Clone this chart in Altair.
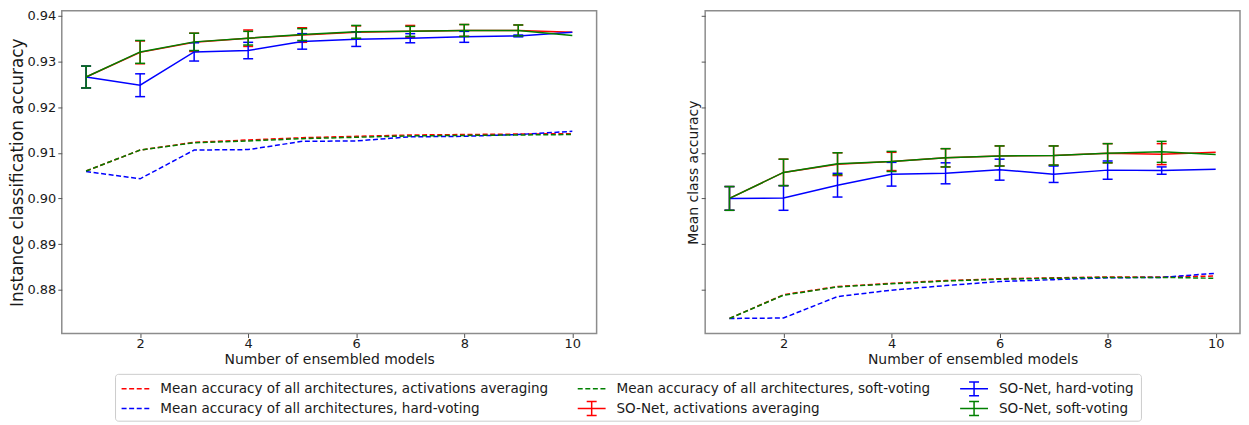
import altair as alt
import pandas as pd

# ---------------- data ----------------
n_models = [1, 2, 3, 4, 5, 6, 7, 8, 9, 10]

# Left panel: instance classification accuracy
inst_mean_avg = [0.9060, 0.9106, 0.9123, 0.9128, 0.9133, 0.9136, 0.9139, 0.9140, 0.9141, 0.9142]
inst_mean_hard = [0.9059, 0.9043, 0.9106, 0.9107, 0.9125, 0.9126, 0.9135, 0.9136, 0.9140, 0.9147]
inst_mean_soft = [0.9060, 0.9106, 0.9122, 0.9126, 0.9131, 0.9134, 0.9137, 0.9138, 0.9139, 0.9140]
inst_so_avg = [0.9266, 0.9320, 0.9342, 0.9351, 0.9358, 0.9364, 0.9366, 0.9368, 0.9368, 0.9364]
inst_so_avg_err = [0.0024, 0.0025, 0.0020, 0.0018, 0.0016, 0.0014, 0.0013, 0.0013, 0.0012, 0.0]
inst_so_hard = [0.9266, 0.9248, 0.9321, 0.9324, 0.9344, 0.9349, 0.9351, 0.9354, 0.9356, 0.9364]
inst_so_hard_err = [0.0024, 0.0025, 0.0020, 0.0018, 0.0017, 0.0016, 0.0010, 0.0012, 0.0002, 0.0]
inst_so_soft = [0.9266, 0.9321, 0.9343, 0.9351, 0.9359, 0.9365, 0.9366, 0.9368, 0.9368, 0.9357]
inst_so_soft_err = [0.0024, 0.0025, 0.0019, 0.0015, 0.0013, 0.0014, 0.0011, 0.0013, 0.0012, 0.0]

# Right panel: mean class accuracy
cls_mean_avg = [0.8737, 0.8789, 0.8807, 0.8814, 0.8820, 0.8824, 0.8826, 0.8828, 0.8828, 0.8830]
cls_mean_hard = [0.8737, 0.8738, 0.8785, 0.8799, 0.8809, 0.8818, 0.8822, 0.8826, 0.8827, 0.8836]
cls_mean_soft = [0.8737, 0.8788, 0.8806, 0.8813, 0.8819, 0.8823, 0.8825, 0.8827, 0.8827, 0.8825]
cls_so_avg = [0.9000, 0.9057, 0.9075, 0.9081, 0.9089, 0.9093, 0.9094, 0.9099, 0.9097, 0.9101]
cls_so_avg_err = [0.0026, 0.0029, 0.0025, 0.0020, 0.0020, 0.0022, 0.0021, 0.0021, 0.0023, 0.0]
cls_so_hard = [0.9000, 0.9001, 0.9029, 0.9053, 0.9055, 0.9063, 0.9053, 0.9062, 0.9061, 0.9064]
cls_so_hard_err = [0.0026, 0.0027, 0.0026, 0.0026, 0.0023, 0.0023, 0.0018, 0.0020, 0.0008, 0.0]
cls_so_soft = [0.9000, 0.9057, 0.9076, 0.9081, 0.9089, 0.9093, 0.9094, 0.9099, 0.9102, 0.9096]
cls_so_soft_err = [0.0026, 0.0029, 0.0024, 0.0022, 0.0020, 0.0022, 0.0021, 0.0021, 0.0023, 0.0]

y_ticks = [0.88, 0.89, 0.90, 0.91, 0.92, 0.93, 0.94]
x_ticks = [2, 4, 6, 8, 10]

series_names = ["avg", "hard", "soft"]
series_colors = {"avg": "#ff0000", "hard": "#0000ff", "soft": "#008000"}

legend_labels = [
    "Mean accuracy of all architectures, activations averaging",
    "Mean accuracy of all architectures, hard-voting",
    "Mean accuracy of all architectures, soft-voting",
    "SO-Net, activations averaging",
    "SO-Net, hard-voting",
    "SO-Net, soft-voting",
]
legend_kind = ["dash", "dash", "dash", "err", "err", "err"]
legend_series = ["avg", "hard", "soft", "avg", "hard", "soft"]
legend_col = [0, 0, 1, 1, 2, 2]
legend_row = [0, 1, 0, 1, 0, 1]
# legend layout as fractions of the legend strip width
legend_sym_x = [0.0627, 0.4505, 0.7756]
legend_txt_x = [0.0838, 0.4716, 0.7968]
legend_row_y = [0.31, 0.73]
legend_box = [0.0457, 0.9179]

# ---------------- build tables ----------------
rows = []
def add(panel, kind, series, ys, errs=None):
    for i, xv in enumerate(n_models):
        rows.append({
            "panel": panel, "kind": kind, "series": series, "x": xv, "y": ys[i],
            "err": (errs[i] if errs is not None else 0.0),
        })

add("inst", "mean", "avg", inst_mean_avg)
add("inst", "mean", "hard", inst_mean_hard)
add("inst", "mean", "soft", inst_mean_soft)
add("inst", "so", "avg", inst_so_avg, inst_so_avg_err)
add("inst", "so", "hard", inst_so_hard, inst_so_hard_err)
add("inst", "so", "soft", inst_so_soft, inst_so_soft_err)
add("cls", "mean", "avg", cls_mean_avg)
add("cls", "mean", "hard", cls_mean_hard)
add("cls", "mean", "soft", cls_mean_soft)
add("cls", "so", "avg", cls_so_avg, cls_so_avg_err)
add("cls", "so", "hard", cls_so_hard, cls_so_hard_err)
add("cls", "so", "soft", cls_so_soft, cls_so_soft_err)

df = pd.DataFrame(rows)
df["lo"] = df["y"] - df["err"]
df["hi"] = df["y"] + df["err"]

FONT = "DejaVu Sans"
W, H = 537, 324
XS = alt.Scale(domain=[0.55, 10.45], nice=False, zero=False)
YS = alt.Scale(domain=[0.8704, 0.9411], nice=False, zero=False)


def panel(p, ytitle, show_labels, ytitle_size):
    xax = alt.Axis(values=x_ticks, title="Number of ensembled models", format="d",
                   labelPadding=0, titlePadding=2)
    yax = alt.Axis(values=y_ticks, format=".2f", labels=show_labels, title=ytitle,
                   labelPadding=2, titlePadding=0, titleFontSize=ytitle_size)
    d = df[df["panel"] == p]
    layers = []
    for s in series_names:
        dm = d[(d["kind"] == "mean") & (d["series"] == s)]
        layers.append(
            alt.Chart(dm).mark_line(color=series_colors[s], strokeDash=[5, 2.6], strokeWidth=1.5)
            .encode(x=alt.X("x:Q", scale=XS, axis=xax), y=alt.Y("y:Q", scale=YS, axis=yax))
        )
    for s in series_names:
        ds = d[(d["kind"] == "so") & (d["series"] == s)]
        de = ds[ds["err"] > 0]
        c = series_colors[s]
        layers.append(
            alt.Chart(ds).mark_line(color=c, strokeWidth=1.5)
            .encode(x=alt.X("x:Q", scale=XS, axis=xax), y=alt.Y("y:Q", scale=YS, axis=yax))
        )
        layers.append(
            alt.Chart(de).mark_rule(color=c, strokeWidth=1.5)
            .encode(x=alt.X("x:Q", scale=XS, axis=xax), y=alt.Y("lo:Q", scale=YS, axis=yax), y2="hi:Q")
        )
        for f in ["lo", "hi"]:
            layers.append(
                alt.Chart(de).mark_tick(color=c, orient="horizontal", size=10, thickness=1.5, opacity=1)
                .encode(x=alt.X("x:Q", scale=XS, axis=xax), y=alt.Y(f + ":Q", scale=YS, axis=yax))
            )
    return alt.layer(*layers).properties(width=W, height=H)


left = panel("inst", "Instance classification accuracy", True, 17)
right = panel("cls", "Mean class accuracy", False, 14)

# ---------------- legend ----------------
dash_path = "M-1,0H-0.643M-0.457,0H-0.1M0.086,0H0.443M0.629,0H0.986"
err_path = "M-1,0H1M0,-0.5V0.5M-0.357,-0.5H0.357M-0.357,0.5H0.357"
leg = pd.DataFrame({
    "label": legend_labels,
    "kind": legend_kind,
    "series": legend_series,
    "sx": [legend_sym_x[c] for c in legend_col],
    "tx": [legend_txt_x[c] for c in legend_col],
    "ry": [legend_row_y[r] for r in legend_row],
})
leg["color"] = leg["series"].map(series_colors)
leg["shape"] = leg["kind"].map({"dash": dash_path, "err": err_path})
box = pd.DataFrame({"x0": [legend_box[0]], "x1": [legend_box[1]], "y0": [0.0], "y1": [1.0]})

LW = 1181
LXS = alt.Scale(domain=[0, 1], nice=False, zero=False)
LYS = alt.Scale(domain=[0, 1], nice=False, zero=False, reverse=True)

leg_box = alt.Chart(box).mark_rect(fill="white", stroke="#cccccc", strokeWidth=1, cornerRadius=3).encode(
    x=alt.X("x0:Q", scale=LXS, axis=None), x2="x1:Q",
    y=alt.Y("y0:Q", scale=LYS, axis=None), y2="y1:Q",
)
leg_sym = alt.Chart(leg).mark_point(filled=False, strokeWidth=1.5, size=784, opacity=1).encode(
    x=alt.X("sx:Q", scale=LXS, axis=None),
    y=alt.Y("ry:Q", scale=LYS, axis=None),
    shape=alt.Shape("shape:N", scale=None),
    color=alt.Color("color:N", scale=None),
)
leg_txt = alt.Chart(leg).mark_text(align="left", baseline="middle", font=FONT, fontSize=13.6, color="#1a1a1a").encode(
    x=alt.X("tx:Q", scale=LXS, axis=None),
    y=alt.Y("ry:Q", scale=LYS, axis=None),
    text="label:N",
)
legend = alt.layer(leg_box, leg_sym, leg_txt).properties(
    width=LW, height=47, view=alt.ViewConfig(stroke="transparent")
)

top = alt.hconcat(left, right, spacing=88)
chart = alt.vconcat(top, legend, spacing=5).properties(padding=0).configure_axis(
    labelFont=FONT, titleFont=FONT, labelFontSize=13, titleFontSize=14,
    labelColor="#1a1a1a", titleColor="#1a1a1a", titleFontWeight="normal",
    tickColor="#555555", tickSize=4, tickWidth=1, domain=False, grid=False,
).configure_view(stroke="#8c8c8c", strokeWidth=1.5).configure_concat(spacing=0)

chart.save("out.html", embed_options={"renderer": "svg", "actions": False})
